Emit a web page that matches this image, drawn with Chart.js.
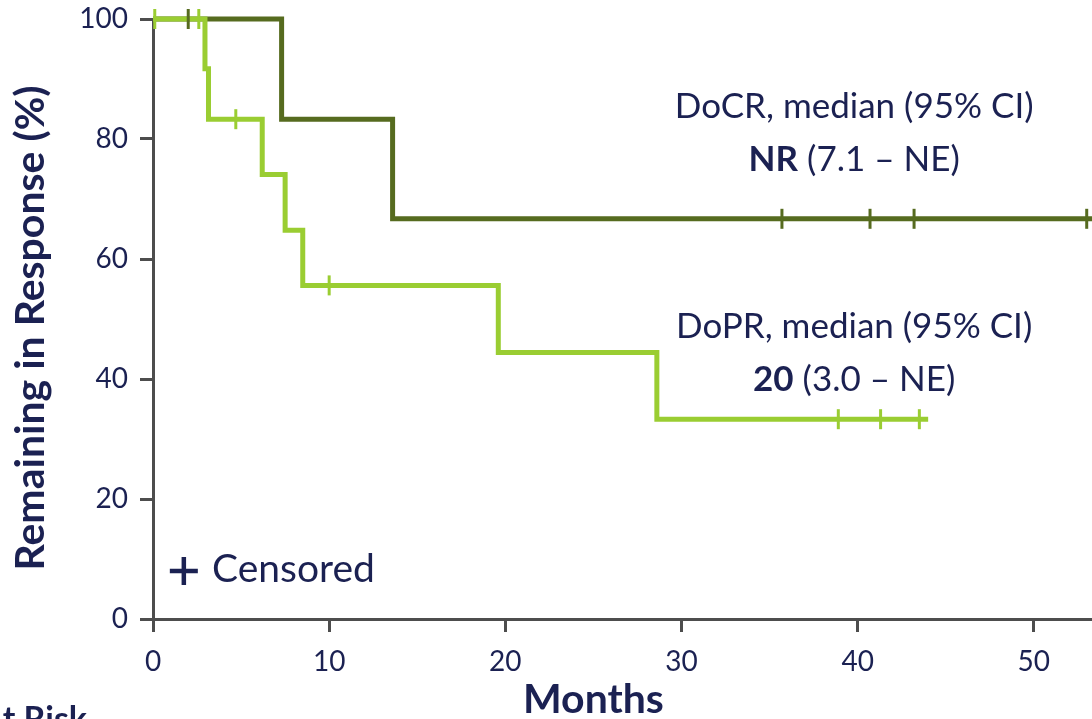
<!DOCTYPE html>
<html>
<head>
<meta charset="utf-8">
<title>Duration of response</title>
<script src="https://cdn.jsdelivr.net/npm/chart.js@4.4.0/dist/chart.umd.min.js"></script>
<style>
body { margin: 0; background: #ffffff; }
</style>
</head>
<body>
<canvas id="km-chart" width="1092" height="719"></canvas>
<script>
// Kaplan-Meier steps (months, % remaining in response)
var docrTimes = [0, 7.3, 13.6, 53.3];
var docrValues = [100, 83.3, 66.7, 66.7];
var docrCensorTimes = [2.0, 35.7, 40.7, 43.2, 53.0];
var docrCensorValues = [100, 66.7, 66.7, 66.7, 66.7];

var doprTimes = [0, 2.95, 3.15, 6.2, 7.5, 8.5, 19.6, 28.6, 44.0];
var doprValues = [100, 91.7, 83.3, 74.1, 64.8, 55.6, 44.4, 33.3, 33.3];
var doprCensorTimes = [0.1, 2.6, 4.7, 10.0, 38.9, 41.3, 43.5];
var doprCensorValues = [100, 100, 83.3, 55.6, 33.3, 33.3, 33.3];

var xTicks = [0, 10, 20, 30, 40, 50];
var yTicks = [0, 20, 40, 60, 80, 100];

var darkGreen = '#566b1f';
var lightGreen = '#9acd32';
var navy = '#1b2152';
var axisGrey = '#4d4d4d';
var fontFamily = 'Lato, "Open Sans", sans-serif';

function pairs(xs, ys) {
  var out = [];
  for (var i = 0; i < xs.length; i++) {
    out.push({ x: xs[i], y: ys[i] });
  }
  return out;
}

// text drawn on top of the plot: medians, censor key, axis titles
var kmLabels = {
  id: 'kmLabels',
  afterDraw: function(chart) {
    var ctx = chart.ctx;
    var xs = chart.scales.x, ys = chart.scales.y;
    ctx.save();
    ctx.fillStyle = navy;
    ctx.textBaseline = 'middle';

    function mixed(boldPart, rest, cx, cy) {
      ctx.font = 'bold 35px ' + fontFamily;
      var w1 = ctx.measureText(boldPart).width;
      ctx.font = '35px ' + fontFamily;
      var w2 = ctx.measureText(rest).width;
      var left = cx - (w1 + w2) / 2;
      ctx.textAlign = 'left';
      ctx.font = 'bold 35px ' + fontFamily;
      ctx.fillText(boldPart, left, cy);
      ctx.font = '35px ' + fontFamily;
      ctx.fillText(rest, left + w1, cy);
    }

    var cx = xs.getPixelForValue(39.8);
    ctx.textAlign = 'center';
    ctx.font = '35px ' + fontFamily;
    ctx.fillText('DoCR, median (95% CI)', cx, ys.getPixelForValue(85.3));
    mixed('NR', ' (7.1 \u2013 NE)', cx, ys.getPixelForValue(76.5));
    ctx.textAlign = 'center';
    ctx.font = '35px ' + fontFamily;
    ctx.fillText('DoPR, median (95% CI)', cx, ys.getPixelForValue(48.7));
    mixed('20', ' (3.0 \u2013 NE)', cx, ys.getPixelForValue(39.8));

    // censor key: a plus sign and its word
    var px = xs.getPixelForValue(1.75), py = ys.getPixelForValue(8.0);
    ctx.strokeStyle = navy;
    ctx.lineWidth = 4.5;
    ctx.beginPath();
    ctx.moveTo(px - 14, py); ctx.lineTo(px + 14, py);
    ctx.moveTo(px, py - 14); ctx.lineTo(px, py + 14);
    ctx.stroke();
    ctx.font = '39px ' + fontFamily;
    ctx.textAlign = 'left';
    ctx.fillText('Censored', xs.getPixelForValue(3.35), ys.getPixelForValue(8.2));

    // x axis title, centred under 0-50
    ctx.font = 'bold 41px ' + fontFamily;
    ctx.textAlign = 'center';
    ctx.fillText('Months', (xs.getPixelForValue(0) + xs.getPixelForValue(50)) / 2, 700);

    // y axis title
    ctx.save();
    ctx.translate(31, ys.getPixelForValue(48.5));
    ctx.rotate(-Math.PI / 2);
    ctx.fillText('Remaining in Response (%)', 0, 0);
    ctx.restore();

    // start of the at-risk table, cut off by the frame
    ctx.font = 'bold 34px ' + fontFamily;
    ctx.textAlign = 'right';
    ctx.textBaseline = 'alphabetic';
    ctx.fillText('At Risk', 87, 731);
    ctx.restore();
  }
};

new Chart(document.getElementById('km-chart'), {
  type: 'line',
  data: {
    datasets: [
      {
        label: 'DoPR censored',
        data: pairs(doprCensorTimes, doprCensorValues),
        showLine: false,
        pointStyle: 'line',
        rotation: 90,
        pointRadius: 10,
        pointBorderWidth: 3,
        borderColor: lightGreen,
        backgroundColor: lightGreen,
        clip: false
      },
      {
        label: 'DoCR censored',
        data: pairs(docrCensorTimes, docrCensorValues),
        showLine: false,
        pointStyle: 'line',
        rotation: 90,
        pointRadius: 10,
        pointBorderWidth: 3,
        borderColor: darkGreen,
        backgroundColor: darkGreen,
        clip: false
      },
      {
        label: 'DoPR',
        data: pairs(doprTimes, doprValues),
        stepped: 'before',
        borderColor: lightGreen,
        borderWidth: 5,
        pointRadius: 0,
        fill: false,
        borderCapStyle: 'butt',
        borderJoinStyle: 'miter',
        clip: 5
      },
      {
        label: 'DoCR',
        data: pairs(docrTimes, docrValues),
        stepped: 'before',
        borderColor: darkGreen,
        borderWidth: 5,
        pointRadius: 0,
        fill: false,
        borderCapStyle: 'butt',
        borderJoinStyle: 'miter',
        clip: 5
      }
    ]
  },
  options: {
    responsive: false,
    animation: false,
    layout: { autoPadding: false, padding: { top: 19, right: 0, bottom: 0, left: 0 } },
    plugins: {
      legend: { display: false },
      tooltip: { enabled: false }
    },
    scales: {
      x: {
        type: 'linear',
        min: 0,
        max: 53.3,
        afterFit: function(scale) {
          scale.height = 100;
          scale.paddingLeft = 0;
          scale.paddingRight = 0;
        },
        afterBuildTicks: function(scale) {
          scale.ticks = xTicks.map(function(v) { return { value: v }; });
        },
        ticks: {
          includeBounds: false,
          color: navy,
          font: { family: fontFamily, size: 28 },
          padding: 13,
          maxRotation: 0
        },
        grid: {
          drawOnChartArea: false,
          color: axisGrey,
          tickColor: axisGrey,
          tickLength: 13,
          tickWidth: 3,
          lineWidth: 3
        },
        border: { color: axisGrey, width: 3 }
      },
      y: {
        type: 'linear',
        min: 0,
        max: 100,
        afterFit: function(scale) {
          scale.width = 153;
          scale.paddingTop = 0;
          scale.paddingBottom = 0;
        },
        afterBuildTicks: function(scale) {
          scale.ticks = yTicks.map(function(v) { return { value: v }; });
        },
        ticks: {
          color: navy,
          font: { family: fontFamily, size: 28 },
          padding: 12
        },
        grid: {
          drawOnChartArea: false,
          color: axisGrey,
          tickColor: axisGrey,
          tickLength: 13,
          tickWidth: 3,
          lineWidth: 3
        },
        border: { color: axisGrey, width: 3 }
      }
    }
  },
  plugins: [kmLabels]
});
</script>
</body>
</html>
